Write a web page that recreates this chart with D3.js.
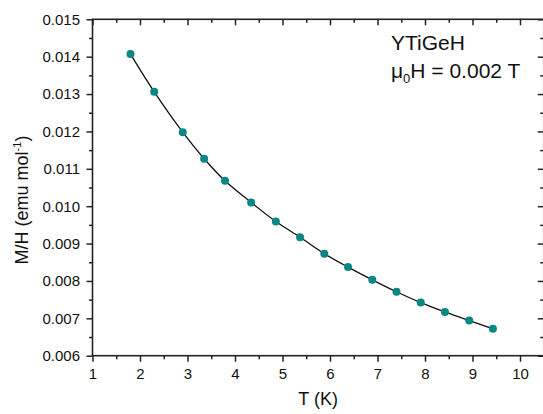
<!DOCTYPE html>
<html>
<head>
<meta charset="utf-8">
<script src="https://cdn.jsdelivr.net/npm/d3@7"></script>
<style>
  html, body { margin: 0; padding: 0; background: #fff; }
  svg { display: block; }
  text { font-family: "Liberation Sans", Arial, sans-serif; fill: #111; }
</style>
</head>
<body>
<svg id="chart" width="543" height="414"></svg>
<script>
// Temperature (K) and susceptibility M/H (emu mol^-1) for YTiGeH at 0.002 T
const temperature = [1.80, 2.30, 2.90, 3.35, 3.79, 4.34, 4.86, 5.37, 5.88, 6.38, 6.89, 7.40, 7.91, 8.42, 8.93, 9.43];
const susceptibility = [0.01407, 0.01306, 0.01198, 0.01127, 0.01068, 0.01010, 0.00959, 0.00917, 0.00873, 0.00837, 0.00803, 0.00771, 0.00742, 0.00717, 0.00694, 0.00672];

const xMajorTicks = [1, 2, 3, 4, 5, 6, 7, 8, 9, 10];
const xMinorTicks = [1.5, 2.5, 3.5, 4.5, 5.5, 6.5, 7.5, 8.5, 9.5, 10.5];
const yMajorTicks = [0.006, 0.007, 0.008, 0.009, 0.010, 0.011, 0.012, 0.013, 0.014, 0.015];
const yMinorTicks = [0.0065, 0.0075, 0.0085, 0.0095, 0.0105, 0.0115, 0.0125, 0.0135, 0.0145];

const svg = d3.select("#chart");
const plotLeft = 92.5, plotRight = 543.75, plotTop = 19.3, plotBottom = 355.7;

const x = d3.scaleLinear().domain([1, 10.5]).range([plotLeft, plotRight]);
const y = d3.scaleLinear().domain([0.006, 0.015]).range([plotBottom, plotTop]);

const axisColor = "#222";
const majorLen = 6, minorLen = 3.5;

function styleAxis(g) {
  g.select(".domain").remove();
  g.selectAll("line").attr("stroke", axisColor).attr("stroke-width", 1.5);
  g.selectAll("text").attr("font-size", 15).attr("fill", "#111")
    .attr("font-family", '"Liberation Sans", Arial, sans-serif');
}

// Bottom axis: outward ticks with labels
svg.append("g").attr("transform", `translate(0,${plotBottom})`)
  .call(d3.axisBottom(x).tickValues(xMajorTicks).tickSize(majorLen).tickPadding(7)
    .tickFormat(d3.format("d")))
  .call(styleAxis);
svg.append("g").attr("transform", `translate(0,${plotBottom})`)
  .call(d3.axisBottom(x).tickValues(xMinorTicks).tickSize(minorLen).tickFormat(""))
  .call(styleAxis);

// Top axis: inward ticks, no labels
svg.append("g").attr("transform", `translate(0,${plotTop})`)
  .call(d3.axisBottom(x).tickValues(xMajorTicks).tickSize(majorLen).tickFormat(""))
  .call(styleAxis);
svg.append("g").attr("transform", `translate(0,${plotTop})`)
  .call(d3.axisBottom(x).tickValues(xMinorTicks).tickSize(minorLen).tickFormat(""))
  .call(styleAxis);

// Left axis: outward ticks with labels
svg.append("g").attr("transform", `translate(${plotLeft},0)`)
  .call(d3.axisLeft(y).tickValues(yMajorTicks).tickSize(majorLen).tickPadding(6.5)
    .tickFormat(d3.format(".3f")))
  .call(styleAxis);
svg.append("g").attr("transform", `translate(${plotLeft},0)`)
  .call(d3.axisLeft(y).tickValues(yMinorTicks).tickSize(minorLen).tickFormat(""))
  .call(styleAxis);

// Right axis: inward ticks, no labels
svg.append("g").attr("transform", `translate(${plotRight},0)`)
  .call(d3.axisLeft(y).tickValues(yMajorTicks).tickSize(majorLen).tickFormat(""))
  .call(styleAxis);
svg.append("g").attr("transform", `translate(${plotRight},0)`)
  .call(d3.axisLeft(y).tickValues(yMinorTicks).tickSize(minorLen).tickFormat(""))
  .call(styleAxis);

// Frame
svg.append("rect")
  .attr("x", plotLeft).attr("y", plotTop)
  .attr("width", plotRight - plotLeft).attr("height", plotBottom - plotTop)
  .attr("fill", "none").attr("stroke", axisColor).attr("stroke-width", 1.6);

// Data
const data = temperature.map((t, i) => ({ t, m: susceptibility[i] }));

const line = d3.line()
  .x(d => x(d.t)).y(d => y(d.m))
  .curve(d3.curveCatmullRom.alpha(0.5));

svg.append("path")
  .datum(data)
  .attr("d", line)
  .attr("fill", "none")
  .attr("stroke", "#111")
  .attr("stroke-width", 1.3);

svg.append("g").selectAll("circle")
  .data(data)
  .join("circle")
  .attr("cx", d => x(d.t))
  .attr("cy", d => y(d.m))
  .attr("r", 4)
  .attr("fill", "#0a8784");

// Axis titles
svg.append("text")
  .attr("x", (plotLeft + plotRight) / 2).attr("y", 405)
  .attr("text-anchor", "middle")
  .attr("font-size", 18)
  .text("T (K)");

const yTitle = svg.append("text")
  .attr("transform", "translate(28,200) rotate(-90)")
  .attr("text-anchor", "middle")
  .attr("font-size", 18);
yTitle.append("tspan").text("M/H (emu mol");
yTitle.append("tspan").attr("font-size", 11).attr("dy", -7).text("-1");
yTitle.append("tspan").attr("dy", 7).text(")");

// Annotation
svg.append("text")
  .attr("x", 391).attr("y", 50)
  .attr("font-size", 21)
  .text("YTiGeH");

const field = svg.append("text")
  .attr("x", 391).attr("y", 77.5)
  .attr("font-size", 21);
field.append("tspan").text("μ");
field.append("tspan").attr("font-size", 13).attr("dy", 5).text("0");
field.append("tspan").attr("dy", -5).text("H = 0.002 T");
</script>
</body>
</html>
